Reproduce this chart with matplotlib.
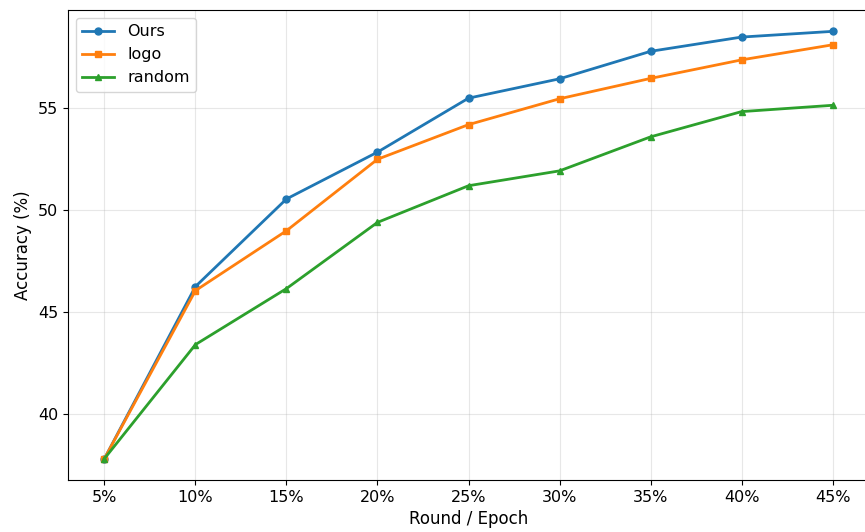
import matplotlib
matplotlib.use("Agg")
import matplotlib.pyplot as plt

rounds = ["5%", "10%", "15%", "20%", "25%", "30%", "35%", "40%", "45%"]
ours = [37.8, 46.25, 50.55, 52.85, 55.5, 56.45, 57.8, 58.5, 58.78]
logo = [37.8, 46.05, 48.99, 52.5, 54.2, 55.47, 56.47, 57.38, 58.12]
rand = [37.8, 43.4, 46.15, 49.4, 51.2, 51.93, 53.6, 54.84, 55.15]

plt.rcParams['font.size'] = 11.5

fig = plt.figure(figsize=(8.65, 5.32), dpi=100)
ax = fig.add_axes([68/865, 52/532, 801/865, 470/532])

x = range(len(rounds))
ax.plot(x, ours, marker='o', markersize=5, linewidth=2, label='Ours')
ax.plot(x, logo, marker='s', markersize=5, linewidth=2, label='logo')
ax.plot(x, rand, marker='^', markersize=5, linewidth=2, label='random')

ax.set_xticks(list(x))
ax.set_xticklabels(rounds)
ax.set_yticks([40, 45, 50, 55])
ax.set_xlabel('Round / Epoch', fontsize=12)
ax.set_ylabel('Accuracy (%)', fontsize=12)
ax.grid(True, alpha=0.3)
ax.legend(loc='upper left')

fig.savefig('out.png', dpi=100)
